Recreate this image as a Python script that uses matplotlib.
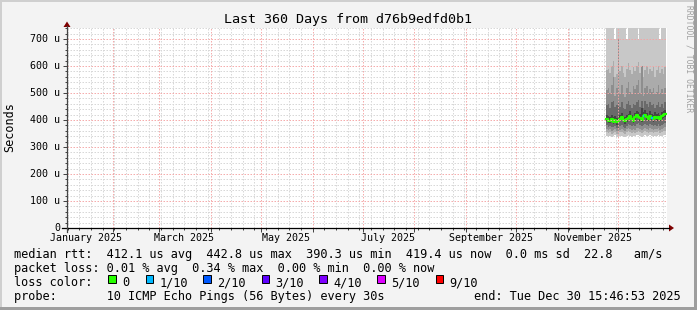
import matplotlib
matplotlib.use('Agg')
import matplotlib.pyplot as plt
import matplotlib.dates as mdates
from matplotlib.patches import Rectangle, Polygon
from matplotlib.lines import Line2D
import numpy as np
from datetime import datetime, timedelta

# --- data (microseconds), one value per day from 24 Nov 2025 ---
data_start = datetime(2025, 11, 24)
ping_min = [340, 338, 342, 336, 340, 344, 338, 335, 340, 342, 338, 336, 341, 344, 340, 337, 342, 339, 343, 345, 340, 338, 341, 344, 342, 339, 343, 340, 338, 342, 340, 344, 339, 342, 345, 346]
ping_2 = [354, 352, 356, 350, 352, 357, 350, 349, 354, 356, 352, 350, 355, 358, 354, 351, 356, 353, 357, 360, 354, 352, 355, 358, 356, 353, 357, 354, 352, 356, 354, 358, 353, 356, 359, 360]
ping_3 = [366, 362, 365, 360, 362, 366, 360, 359, 364, 368, 362, 360, 366, 370, 366, 362, 367, 364, 369, 372, 366, 362, 366, 370, 368, 364, 369, 366, 363, 368, 365, 370, 364, 368, 371, 373]
ping_4 = [380, 375, 376, 374, 373, 378, 372, 372, 378, 382, 375, 372, 379, 384, 382, 376, 380, 378, 384, 388, 380, 376, 382, 386, 382, 378, 384, 380, 376, 382, 378, 384, 378, 382, 386, 388]
ping_5 = [396, 389, 388, 392, 385, 391, 383, 388, 395, 400, 391, 387, 393, 399, 405, 395, 389, 400, 408, 403, 397, 391, 404, 410, 400, 395, 406, 399, 393, 402, 397, 401, 395, 404, 408, 412]
median = [405, 398, 396, 402, 394, 400, 392, 398, 405, 410, 400, 396, 402, 408, 415, 404, 398, 410, 418, 412, 406, 400, 414, 420, 410, 404, 416, 408, 402, 412, 406, 410, 404, 414, 418, 422]
ping_6 = [420, 414, 410, 418, 410, 416, 406, 414, 420, 426, 416, 410, 418, 424, 432, 420, 414, 426, 434, 428, 422, 445, 430, 436, 426, 420, 432, 424, 418, 428, 422, 426, 420, 430, 434, 438]
ping_7 = [455, 460, 445, 465, 470, 450, 455, 470, 450, 465, 445, 440, 460, 470, 455, 445, 460, 455, 465, 475, 450, 470, 445, 470, 460, 450, 465, 455, 460, 445, 455, 465, 450, 460, 445, 465]
ping_8 = [510, 520, 500, 530, 560, 490, 520, 700, 500, 530, 495, 485, 520, 540, 505, 495, 525, 515, 530, 550, 500, 600, 490, 520, 525, 500, 515, 505, 520, 495, 505, 530, 500, 515, 495, 520]
ping_9 = [585, 590, 575, 600, 620, 560, 570, 590, 580, 600, 575, 560, 590, 610, 585, 570, 595, 580, 600, 615, 575, 590, 560, 585, 600, 570, 590, 580, 595, 560, 585, 600, 575, 590, 570, 595]
ping_max = [760, 760, 760, 760, 760, 700, 760, 760, 760, 760, 760, 760, 700, 760, 760, 760, 760, 760, 760, 700, 760, 760, 760, 760, 760, 760, 760, 760, 760, 760, 760, 760, 700, 760, 760, 760]
loss_tenths = [0, 0, 0, 0, 0, 0, 0, 0, 0, 0, 0, 0, 0, 0, 0, 0, 0, 0, 0, 0, 0, 0, 1, 0, 0, 0, 0, 1, 0, 0, 0, 0, 0, 0, 0, 0]

y_ticks = [0, 100, 200, 300, 400, 500, 600, 700]
y_labels = ['0', '100 u', '200 u', '300 u', '400 u', '500 u', '600 u', '700 u']
month_labels = ['January 2025', 'March 2025', 'May 2025', 'July 2025', 'September 2025', 'November 2025']
label_months = [1, 3, 5, 7, 9, 11]

loss_names = ['0', '1/10', '2/10', '3/10', '4/10', '5/10', '9/10']
loss_colors = ['#26ff00', '#00b8ff', '#0059ff', '#5e00ff', '#7e00ff', '#dd00ff', '#ff0000']
smoke_grays = ['#c8c8c8', '#ababab', '#8e8e8e', '#6a6a6a', '#444444']

end = datetime(2025, 12, 30, 15, 46, 53)
start = end - timedelta(days=360)

W, H = 697, 310
FONT = 'DejaVu Sans Mono'
fig = plt.figure(figsize=(W / 100, H / 100), dpi=100)
fig.patch.set_facecolor('#f3f3f3')

def px(x, y):
    return x / W, 1 - y / H

# frame shading
fig.add_artist(Rectangle(px(0, 2), 1, 2 / H, transform=fig.transFigure, color='#cfcfcf', lw=0))
fig.add_artist(Rectangle(px(0, H), 2 / W, 1, transform=fig.transFigure, color='#cfcfcf', lw=0))
fig.add_artist(Rectangle(px(0, H), 1, 3 / H, transform=fig.transFigure, color='#9e9e9e', lw=0))
fig.add_artist(Rectangle(px(W - 3, H), 3 / W, 1, transform=fig.transFigure, color='#9e9e9e', lw=0))

ax = fig.add_axes([67 / W, (H - 228) / H, 600 / W, 200 / H])
ax.set_facecolor('white')
ax.set_xlim(start, end)
ax.set_ylim(0, 200 / 0.27)
for s in ax.spines.values():
    s.set_visible(False)

# smoke
n = len(median)
edges = [data_start + timedelta(days=i) for i in range(n + 1)]
def ext(a):
    return list(a) + [a[-1]]
lows = [ping_min, ping_2, ping_3, ping_4, ping_5]
highs = [ping_max, ping_9, ping_8, ping_7, ping_6]
for i in range(5):
    ax.fill_between(edges, ext(lows[i]), ext(highs[i]), step='post', color=smoke_grays[i], lw=0, zorder=2)

# median line coloured by loss
ax.step(edges, ext(median), where='post', color=loss_colors[0], lw=1.6, zorder=4)
for i, l in enumerate(loss_tenths):
    if l > 0:
        ax.plot([edges[i], edges[i + 1]], [median[i], median[i]], color=loss_colors[l], lw=1.6, zorder=5,
                solid_capstyle='butt')

# minor grid under the data, major grid drawn on top
ax.set_yticks(y_ticks)
ax.set_yticks(np.arange(0, 741, 20), minor=True)
ax.xaxis.set_major_locator(mdates.MonthLocator())
ax.xaxis.set_minor_locator(mdates.WeekdayLocator(byweekday=mdates.SU))
ax.set_yticklabels([])
ax.set_xticklabels([])
ax.grid(which='minor', color='#d8d8d8', lw=0.72, ls=(0, (1.5, 1.5)), snap=True)
ax.set_axisbelow(True)
for v in y_ticks[1:]:
    ax.axhline(v, color='#f4a4a4', lw=0.72, ls=(0, (1.5, 1.5)), zorder=7, snap=True, alpha=0.9)
for m in range(2, 13):
    ax.axvline(datetime(2025, m, 1), color='#f4a4a4', lw=0.72, ls=(0, (1.5, 1.5)), zorder=7, snap=True, alpha=0.9)
ax.tick_params(which='major', length=3, width=0.72, color='#444444', direction='out')
ax.tick_params(which='minor', length=1.5, width=0.72, color='#444444', direction='out')

for v, t in zip(y_ticks, y_labels):
    ax.text(-7 / 600, v / (200 / 0.27), t, transform=ax.transAxes, ha='right', va='center',
            fontsize=7.2, family=FONT)
for m, t in zip(label_months, month_labels):
    x = mdates.date2num(datetime(2025, m, 1) + timedelta(days=15))
    ax.text(x, -9.7 / 200, t, transform=ax.get_xaxis_transform(), ha='center', va='center',
            fontsize=7.2, family=FONT)

# axes lines and arrows
fig.add_artist(Line2D([62 / W, 669 / W], [1 - 228 / H] * 2, transform=fig.transFigure, color='black', lw=0.9))
fig.add_artist(Line2D([67 / W] * 2, [1 - 232 / H, 1 - 26 / H], transform=fig.transFigure, color='#444444', lw=0.9))
fig.add_artist(Polygon([px(669, 224.5), px(669, 231.5), px(674, 228)], closed=True,
                       transform=fig.transFigure, color='#7f0000', lw=0))
fig.add_artist(Polygon([px(63.5, 27), px(70.5, 27), px(67, 21.5)], closed=True,
                       transform=fig.transFigure, color='#7f0000', lw=0))

# texts
fig.text(*px(348, 19), 'Last 360 Days from d76b9edfd0b1', ha='center', va='center', fontsize=9.6, family=FONT)
fig.text(*px(10, 127), 'Seconds', rotation=90, ha='center', va='center', fontsize=8.5, family=FONT)
fig.text(*px(689, 5), 'RRDTOOL / TOBI OETIKER', rotation=270, ha='center', va='top', fontsize=5.8,
         family=FONT, color='#a0a0a0')

LX = 14.5
fig.text(*px(LX, 254.5), 'median rtt:  412.1 us avg  442.8 us max  390.3 us min  419.4 us now  0.0 ms sd  22.8   am/s',
         ha='left', va='center', fontsize=8.55, family=FONT)
fig.text(*px(LX, 268.5), 'packet loss: 0.01 % avg  0.34 % max  0.00 % min  0.00 % now',
         ha='left', va='center', fontsize=8.55, family=FONT)
fig.text(*px(LX, 282.5), 'loss color:', ha='left', va='center', fontsize=8.55, family=FONT)
box_x = [108.3, 145.7, 203.3, 261.7, 319.3, 377.3, 435.7]
for bx, name, col in zip(box_x, loss_names, loss_colors):
    fig.add_artist(Rectangle(px(bx, 282.7), 7.3 / W, 7.6 / H, transform=fig.transFigure,
                             facecolor=col, edgecolor='black', lw=0.7))
    fig.text(*px(bx + 14, 282.5), name, ha='left', va='center', fontsize=8.55, family=FONT)
fig.text(*px(LX, 296.5), 'probe:       10 ICMP Echo Pings (56 Bytes) every 30s',
         ha='left', va='center', fontsize=8.55, family=FONT)
fig.text(*px(681, 296.5), 'end: Tue Dec 30 15:46:53 2025', ha='right', va='center', fontsize=8.55, family=FONT)

fig.savefig('out.png', dpi=100, facecolor=fig.get_facecolor())
